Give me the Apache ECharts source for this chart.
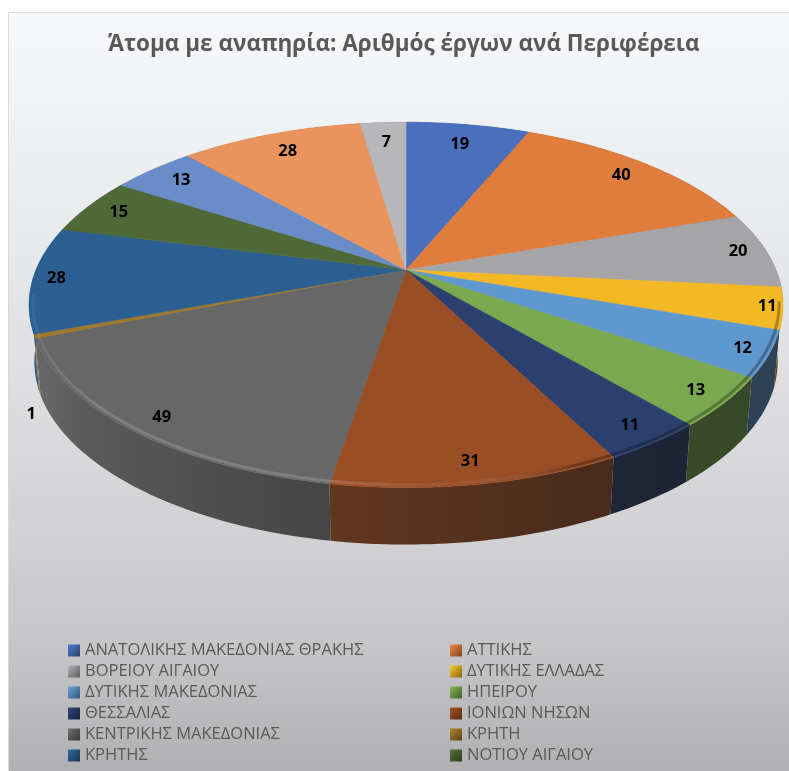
<!DOCTYPE html>
<html><head><meta charset="utf-8">
<style>html,body{margin:0;padding:0;background:#fff}#c{width:789px;height:771px}</style>
<script src="https://cdn.jsdelivr.net/npm/echarts@6/dist/echarts.min.js"></script>
</head><body><div id="c"></div>
<script>
const titleText = 'Άτομα με αναπηρία: Αριθμός έργων ανά Περιφέρεια';
// The reference legend is cut off after 12 entries; the last three slices have no readable name.
const categories = ['ΑΝΑΤΟΛΙΚΗΣ ΜΑΚΕΔΟΝΙΑΣ ΘΡΑΚΗΣ','ΑΤΤΙΚΗΣ','ΒΟΡΕΙΟΥ ΑΙΓΑΙΟΥ','ΔΥΤΙΚΗΣ ΕΛΛΑΔΑΣ','ΔΥΤΙΚΗΣ ΜΑΚΕΔΟΝΙΑΣ','ΗΠΕΙΡΟΥ','ΘΕΣΣΑΛΙΑΣ','ΙΟΝΙΩΝ ΝΗΣΩΝ','ΚΕΝΤΡΙΚΗΣ ΜΑΚΕΔΟΝΙΑΣ','ΚΡΗΤΗ','ΚΡΗΤΗΣ','ΝΟΤΙΟΥ ΑΙΓΑΙΟΥ','slice 13','slice 14','slice 15'];
const values = [19,40,20,11,12,13,11,31,49,1,28,15,13,28,7];
const colors = ['#4a70bd','#e07c3c','#a5a5a8','#f4b825','#5f97cf','#7aa84f','#2c406f','#9a4e25','#676767','#a0782a','#2c6093','#4f6a38','#6a8cc8','#e8945c','#b7b7ba'];
const legendCount = 12;
const labelRadius = [.845,.885,.922,.96,.933,.919,.915,.912,.919,1.127,.937,.9,.877,.856,.846];
const labelAngleShift = [0,0,0,0,0,0,0,0,-1,-18.5,0,0,0,0,0];

const CX=406, CY=270, A=370, B=176, P=.191, DEPTH=57, SHRINK=.986;
const total = values.reduce((a,b)=>a+b,0);
const cum=[0]; values.forEach(v=>cum.push(cum[cum.length-1]+v));
const deg = v => v/total*360;
function proj(angle,r){
  const t=angle*Math.PI/180, u=r*Math.sin(t), v=-r*Math.cos(t), d=1-P*v;
  return [CX+A*u/d, CY+B*v/d];
}
function under(p){ return [CX+(p[0]-CX)*SHRINK, p[1]+DEPTH]; }
function hex(c){ return [1,3,5].map(i=>parseInt(c.substr(i,2),16)); }
function shade(c,f,add){ return 'rgb('+hex(c).map(x=>Math.min(255,Math.round(x*f+(add||0)))).join(',')+')'; }
function sideFactor(x){
  const s=[[20,1.02],[45,.82],[120,.72],[331,.55],[620,.39],[789,.35]];
  for(let i=1;i<s.length;i++) if(x<=s[i][0]){const a=s[i-1],b=s[i];return a[1]+(b[1]-a[1])*(x-a[0])/(b[0]-a[0]);}
  return .35;
}
function arc(a0,a1){ const n=Math.max(2,Math.ceil(Math.abs(a1-a0)/1)), o=[];
  for(let i=0;i<=n;i++) o.push(a0+(a1-a0)*i/n); return o; }
const rimGradient={type:'linear',x:20,y:0,x2:789,y2:0,global:true,colorStops:[
  {offset:0,color:'rgba(255,255,255,0.04)'},{offset:.1,color:'rgba(255,255,255,0.16)'},
  {offset:.4,color:'rgba(255,255,255,0.16)'},{offset:.56,color:'rgba(255,255,255,0.04)'},
  {offset:.72,color:'rgba(0,0,0,0.28)'},{offset:1,color:'rgba(0,0,0,0.3)'}]};

function renderSlice(i){
  return function(params,api){
    const a0=deg(cum[i]), a1=a0+deg(api.value(0));
    const ch=[];
    const angs=arc(a0,a1);
    const top=angs.map(a=>proj(a,1));
    const bot=top.map(under).reverse();
    const xs=top.concat(bot).map(p=>p[0]);
    const x0=Math.min(...xs), x1=Math.max(...xs);
    const stops=[];
    for(let k=0;k<=6;k++){const x=x0+(x1-x0)*k/6; stops.push({offset:k/6,color:shade(colors[i],sideFactor(x),12)});}
    ch.push({type:'polygon',z2:1,shape:{points:top.concat(bot)},
      style:{fill:x1-x0<1?shade(colors[i],.8):{type:'linear',x:x0,y:0,x2:x1,y2:0,global:true,colorStops:stops}}});
    ch.push({type:'polygon',z2:10,shape:{points:[[CX,CY]].concat(top)},
      style:{fill:colors[i],stroke:colors[i],lineWidth:.6}});
    const f0=Math.max(a0,100), f1=Math.min(a1,262);
    if(f1>f0){
      ch.push({type:'polyline',z2:11,shape:{points:arc(f0,f1).map(a=>proj(a,.99))},
        style:{fill:'none',stroke:rimGradient,lineWidth:3}});
    }
    const mid=(a0+a1)/2+labelAngleShift[i];
    const p=proj(mid,labelRadius[i]);
    ch.push({type:'text',z2:20,style:{text:String(api.value(0)),x:p[0],y:p[1],align:'center',verticalAlign:'middle',
      fill:'#000',font:'bold 16.5px "Open Sans"'}});
    return {type:'group',children:ch};
  };
}

const series=categories.map((name,i)=>({
  type:'custom',name,coordinateSystem:'none',silent:true,animation:false,
  itemStyle:{color:colors[i]},
  renderItem:renderSlice(i),data:[[values[i]]]
}));
function legendItem(i){
  const name=categories[i],c=colors[i];
  return {name,icon:'rect',itemStyle:{color:{type:'linear',x:0,y:0,x2:1,y2:1,colorStops:[
    {offset:0,color:shade(c,1.1)},{offset:1,color:shade(c,.55)}]}}};
}
function legend(left,mod){
  return {orient:'vertical',left,top:642,height:300,padding:0,itemWidth:12,itemHeight:12,itemGap:4,selectedMode:false,
    textStyle:{color:'#595959',fontFamily:'Open Sans',fontSize:16.5,lineHeight:16},
    data:categories.slice(0,legendCount).map((_,i)=>i).filter(i=>i%2===mod).map(legendItem)};
}
const chart=echarts.init(document.getElementById('c'),null,{renderer:'canvas'});
chart.setOption({
  animation:false,
  title:{text:titleText,left:108,top:29,textStyle:{color:'#595959',fontFamily:'Open Sans',fontWeight:'bold',fontSize:22.5},
    padding:[4,0,0,0]},
  legend:[legend(68,0),legend(450,1)],
  graphic:[{type:'rect',z:-10,silent:true,shape:{x:8.5,y:12.5,width:790,height:770},
    style:{stroke:'#d9d9d9',lineWidth:1,fill:{type:'linear',x:0,y:0,x2:0,y2:1,colorStops:[
      {offset:0,color:'#f7f8fa'},{offset:.16,color:'#eef1f4'},{offset:.5,color:'#dddddf'},
      {offset:.7,color:'#d0d0d2'},{offset:.82,color:'#c6c6c8'},{offset:1,color:'#aeaeb0'}]}}}],
  series
});
</script></body></html>
